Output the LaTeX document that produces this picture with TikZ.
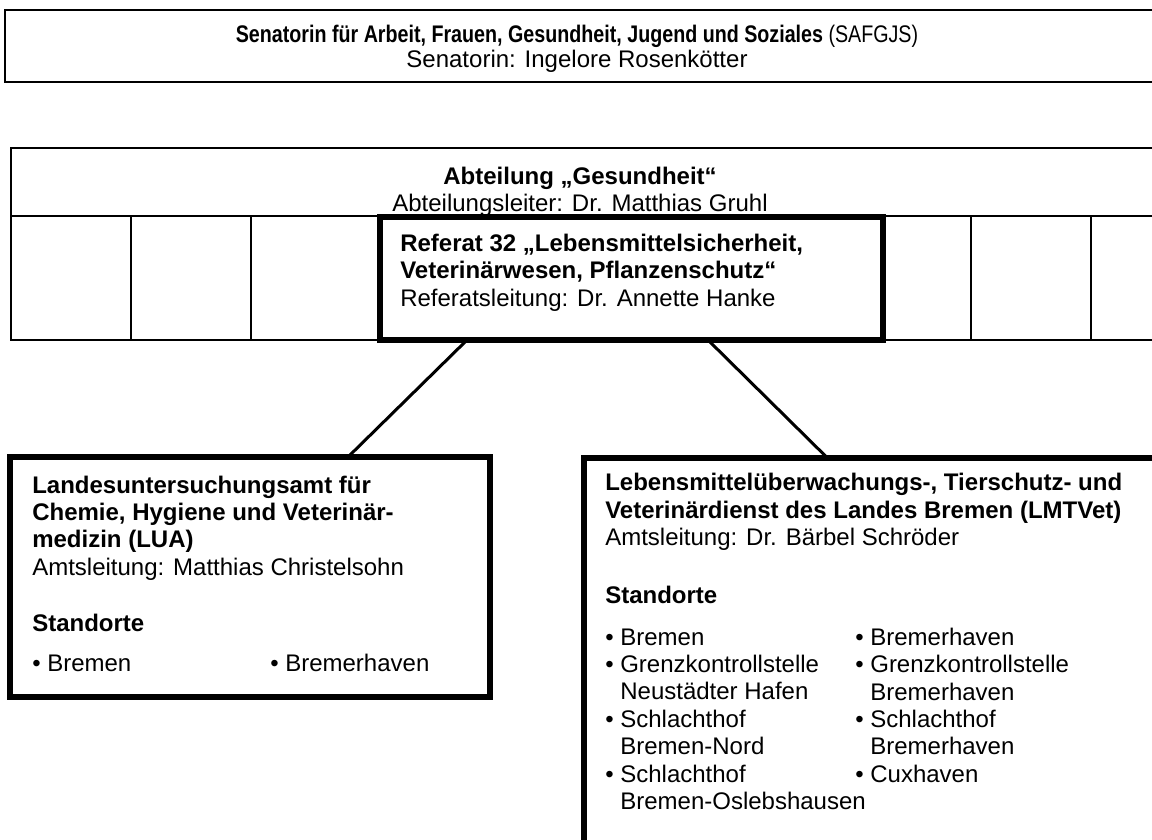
\documentclass[tikz,border=0pt]{standalone}
\usepackage{fontspec}
\usepackage{graphicx}
\setmainfont{Liberation Sans}
\usetikzlibrary{positioning, calc}

\begin{document}
\begin{tikzpicture}[x=0.75pt, y=-0.75pt,
    thinline/.style = {draw, line width=1.5pt},
    thickbox/.style = {draw, rectangle, line width=4.5pt, fill=white, inner sep=0pt, outer sep=0pt},
    txt/.style = {inner sep=0pt, font=\fontsize{18}{20.6}\selectfont},
    link/.style = {line width=2.25pt}]
      \useasboundingbox (0,0) rectangle (1152,839);
      \clip (0,0) rectangle (1152,839);

      % Senatorin
      \draw[thinline] (5,10) rectangle (1170,82);
      \node[txt, anchor=base] (senat) at (577,42.5)
        {\scalebox{0.82}[1]{\textbf{Senatorin für Arbeit, Frauen, Gesundheit, Jugend und Soziales} (SAFGJS)}};
      \node[txt, anchor=base] (senatorin) at (577,67.5) {Senatorin: Ingelore Rosenkötter};

      % Abteilung
      \draw[thinline] (11,148) rectangle (1170,340);
      \draw[thinline] (11,216) -- (1170,216);
      \foreach \x in {131,251,971,1091}
        \draw[thinline] (\x,216) -- (\x,340);
      \node[txt, align=center, anchor=base] (abt) at (580,211.5)
        {\textbf{Abteilung „Gesundheit“}\\Abteilungsleiter: Dr. Matthias Gruhl};

      % Referat 32
      \node[thickbox, minimum width=377.25pt, minimum height=92.25pt] (referat) at (631.5,278.5) {};
      \node[txt, align=left, anchor=base west] (referattext) at (400,306.4)
        {\textbf{Referat 32 „Lebensmittelsicherheit,}\\\textbf{Veterinärwesen, Pflanzenschutz“}\\Referatsleitung: Dr. Annette Hanke};

      % LUA
      \node[thickbox, minimum width=360pt, minimum height=180pt] (lua) at (250,577) {};
      \node[txt, align=left, anchor=base west] (luatext) at (32,575.4)
        {\textbf{Landesuntersuchungsamt für}\\\textbf{Chemie, Hygiene und Veterinär-}\\\textbf{medizin (LUA)}\\Amtsleitung: Matthias Christelsohn};
      \node[txt, anchor=base west] (luastandorte) at (32,631) {\textbf{Standorte}};
      \node[txt, anchor=base west] (luabremen) at (32,671) {• Bremen};
      \node[txt, anchor=base west] (luabremerhaven) at (270,671) {• Bremerhaven};

      % LMTVet
      \node[thickbox, minimum width=447pt, minimum height=289.1pt] (lmt) at (882,650.25) {};
      \node[txt, align=left, anchor=base west] (lmttext) at (605,545.9)
        {\textbf{Lebensmittelüberwachungs-, Tierschutz- und}\\\textbf{Veterinärdienst des Landes Bremen (LMTVet)}\\Amtsleitung: Dr. Bärbel Schröder};
      \node[txt, anchor=base west] (lmtstandorte) at (605,603) {\textbf{Standorte}};
      \node[txt, align=left, anchor=base west] (lmtlinks) at (605,809.8)
        {• Bremen\\• Grenzkontrollstelle\\\hphantom{• }Neustädter Hafen\\• Schlachthof\\\hphantom{• }Bremen-Nord\\• Schlachthof\\\hphantom{• }Bremen-Oslebshausen};
      \node[txt, align=left, anchor=base west] (lmtrechts) at (855,782.4)
        {• Bremerhaven\\• Grenzkontrollstelle\\\hphantom{• }Bremerhaven\\• Schlachthof\\\hphantom{• }Bremerhaven\\• Cuxhaven};

      \draw[link] ($(referat.south west)+(87,0)$) -- ($(lua.north west)+(338,0)$);
      \draw[link] ($(referat.south west)+(328,0)$) -- ($(lmt.north west)+(243,0)$);
\end{tikzpicture}
\end{document}
